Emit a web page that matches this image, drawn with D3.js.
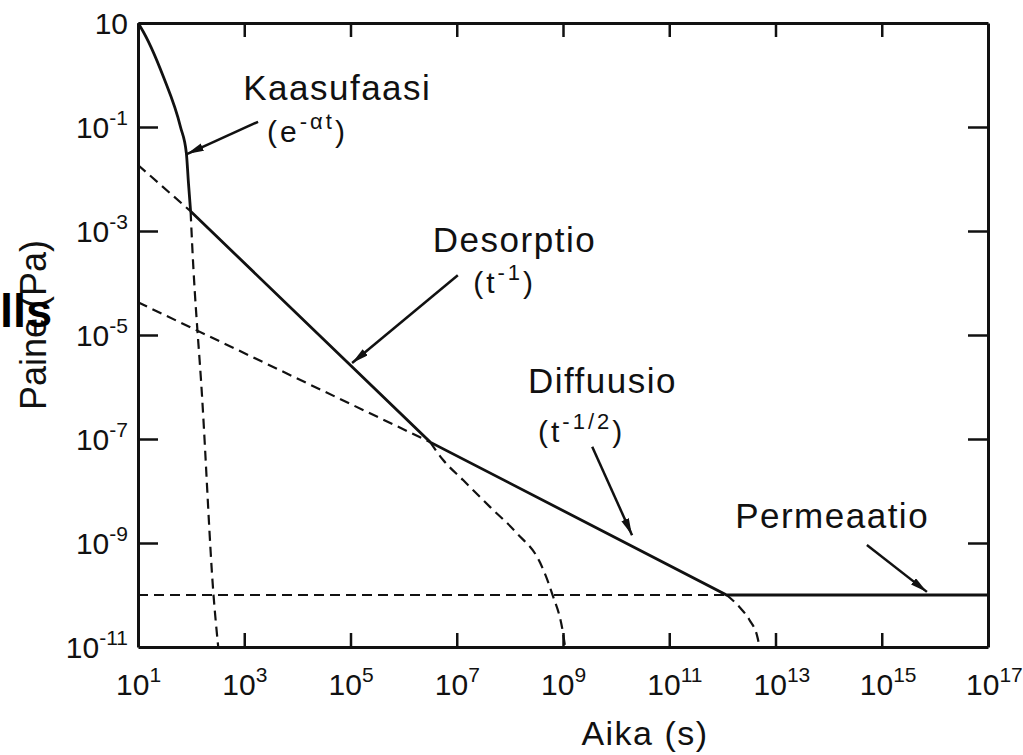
<!DOCTYPE html>
<html>
<head>
<meta charset="utf-8">
<script src="https://cdn.jsdelivr.net/npm/d3@7"></script>
<style>
  body { margin: 0; background: #fff; }
  text { font-family: "Liberation Sans", Arial, sans-serif; fill: #111; }
</style>
</head>
<body>
<script>
// exponents used for the axis ticks (powers of ten)
var xExp = [1, 3, 5, 7, 9, 11, 13, 15, 17];
var yExp = [1, -1, -3, -5, -7, -9, -11];

// curves, as [log10 t, log10 P]
var gasCurve = [[1.00, 1.00], [1.05, 0.92], [1.48, -0.04], [1.80, -1.00], [1.91, -1.50], [1.95, -2.08], [1.99, -2.62]];
var totalCurve = [[1.99, -2.62], [6.50, -7.06], [12.08, -10.0], [17.0, -10.0]];
var gasTail = [[1.99, -2.62], [2.02, -3.27], [2.21, -6.25], [2.42, -9.98], [2.51, -11.0]];
var desorptionDash = [[1.0, -1.73], [1.99, -2.62]];
var desorptionTail = [[6.50, -7.06], [6.74, -7.40], [7.12, -7.79], [7.63, -8.31], [8.13, -8.81], [8.57, -9.38], [8.79, -9.96], [9.0, -10.73], [9.04, -11.0]];
var diffusionDash = [[1.0, -4.37], [6.50, -7.06]];
var diffusionTail = [[12.08, -10.0], [12.32, -10.23], [12.51, -10.48], [12.66, -10.81], [12.70, -11.0]];
var permeationDash = [[1.0, -10.0], [12.08, -10.0]];

// annotation texts and where they sit (data coordinates, log10)
var labelNames = ["Kaasufaasi", "Desorptio", "Diffuusio", "Permeaatio"];
var labelFormulas = [["(e", "-\u03b1t", ")"], ["(t", "-1", ")"], ["(t", "-1/2", ")"], null];
var labelAt = [[2.98, -0.48], [6.55, -3.40], [8.34, -6.12], [12.24, -8.71]];
var formulaAt = [[3.43, -1.29], [7.31, -4.19], [8.53, -7.06], null];
var arrowFrom = [[3.26, -0.90], [7.02, -3.85], [9.55, -7.15], [14.72, -9.04]];
var arrowTo = [[1.92, -1.52], [5.03, -5.54], [10.30, -8.85], [15.85, -9.94]];

var width = 1023, height = 755;
var margin = {top: 23, right: 35, bottom: 108, left: 138};

var svg = d3.select("body").append("svg")
  .attr("width", width)
  .attr("height", height);

svg.append("rect").attr("width", width).attr("height", height).attr("fill", "#fff");

var x = d3.scaleLog().domain([1e1, 1e17]).range([margin.left, width - margin.right]);
var y = d3.scaleLog().domain([1e-11, 1e1]).range([height - margin.bottom, margin.top]);

var px = function(d) { return x(Math.pow(10, d[0])); };
var py = function(d) { return y(Math.pow(10, d[1])); };

// arrow head
svg.append("defs").append("marker")
  .attr("id", "head")
  .attr("viewBox", "0 0 10 10")
  .attr("refX", 10).attr("refY", 5)
  .attr("markerUnits", "userSpaceOnUse")
  .attr("markerWidth", 17).attr("markerHeight", 8)
  .attr("preserveAspectRatio", "none")
  .attr("orient", "auto")
  .append("path")
  .attr("d", "M0,0L10,5L0,10z")
  .attr("fill", "#111");

// axes, ticks pointing inwards, labels drawn separately
var inner = xExp.slice(1, -1).map(function(e) { return Math.pow(10, e); });
var innerY = yExp.slice(1, -1).map(function(e) { return Math.pow(10, e); });

function styleAxis(g) {
  g.select(".domain").attr("stroke", "#111").attr("stroke-width", 3);
  g.selectAll(".tick line").attr("stroke", "#111").attr("stroke-width", 2.5);
}

svg.append("g").attr("transform", "translate(0," + y.range()[0] + ")")
  .call(d3.axisBottom(x).tickValues(inner).tickSizeInner(-14).tickSizeOuter(0).tickFormat(""))
  .call(styleAxis);
svg.append("g").attr("transform", "translate(0," + y.range()[1] + ")")
  .call(d3.axisTop(x).tickValues(inner).tickSizeInner(-14).tickSizeOuter(0).tickFormat(""))
  .call(styleAxis);
svg.append("g").attr("transform", "translate(" + x.range()[0] + ",0)")
  .call(d3.axisLeft(y).tickValues(innerY).tickSizeInner(-20).tickSizeOuter(0).tickFormat(""))
  .call(styleAxis);
svg.append("g").attr("transform", "translate(" + x.range()[1] + ",0)")
  .call(d3.axisRight(y).tickValues(innerY).tickSizeInner(-20).tickSizeOuter(0).tickFormat(""))
  .call(styleAxis);

// y tick labels
yExp.forEach(function(e) {
  var t = svg.append("text")
    .attr("x", 128)
    .attr("y", y(Math.pow(10, e)) + 11)
    .attr("text-anchor", "end")
    .style("font-size", "30px");
  t.append("tspan").text("10");
  if (e !== 1) {
    t.append("tspan").attr("dy", -13).style("font-size", "21px").text("-" + Math.abs(e));
  }
});

// x tick labels
xExp.forEach(function(e) {
  var t = svg.append("text")
    .attr("x", x(Math.pow(10, e)) - 22)
    .attr("y", 695)
    .style("font-size", "30px");
  t.append("tspan").text("10");
  t.append("tspan").attr("dy", -13).style("font-size", "21px").text(e);
});

// axis titles
svg.append("text")
  .attr("x", 645).attr("y", 745)
  .attr("text-anchor", "middle")
  .style("font-size", "34px")
  .style("letter-spacing", "1.5px")
  .text("Aika (s)");

svg.append("text")
  .attr("transform", "translate(46,325) rotate(-90)")
  .attr("text-anchor", "middle")
  .style("font-size", "36px")
  .text("Paine (Pa)");

svg.append("text")
  .attr("x", 0).attr("y", 327)
  .style("font-size", "47px")
  .style("font-weight", "bold")
  .style("fill", "#000")
  .text("lls");

// curves
var lin = d3.line().x(px).y(py);
var smooth = d3.line().x(px).y(py).curve(d3.curveMonotoneX);

var curves = svg.append("g").attr("fill", "none").attr("stroke", "#111");

[[gasTail, smooth], [desorptionDash, lin], [desorptionTail, smooth],
 [diffusionDash, lin], [diffusionTail, smooth], [permeationDash, lin]].forEach(function(c) {
  curves.append("path")
    .attr("d", c[1](c[0]))
    .attr("stroke-width", 2.2)
    .attr("stroke-dasharray", "10,6");
});

curves.append("path").attr("d", smooth(gasCurve)).attr("stroke-width", 2.8);
curves.append("path").attr("d", lin(totalCurve)).attr("stroke-width", 2.8);

// annotations
labelNames.forEach(function(name, i) {
  svg.append("text")
    .attr("x", px(labelAt[i])).attr("y", py(labelAt[i]))
    .style("font-size", "35px")
    .style("letter-spacing", "1.5px")
    .text(name);

  if (labelFormulas[i]) {
    var f = svg.append("text")
      .attr("x", px(formulaAt[i])).attr("y", py(formulaAt[i]))
      .style("font-size", "30px")
      .style("letter-spacing", "3px");
    f.append("tspan").text(labelFormulas[i][0]);
    f.append("tspan").attr("dy", -13).style("font-size", "22px").text(labelFormulas[i][1]);
    f.append("tspan").attr("dy", 13).text(labelFormulas[i][2]);
  }

  svg.append("line")
    .attr("x1", px(arrowFrom[i])).attr("y1", py(arrowFrom[i]))
    .attr("x2", px(arrowTo[i])).attr("y2", py(arrowTo[i]))
    .attr("stroke", "#111")
    .attr("stroke-width", 2.5)
    .attr("marker-end", "url(#head)");
});
</script>
</body>
</html>
